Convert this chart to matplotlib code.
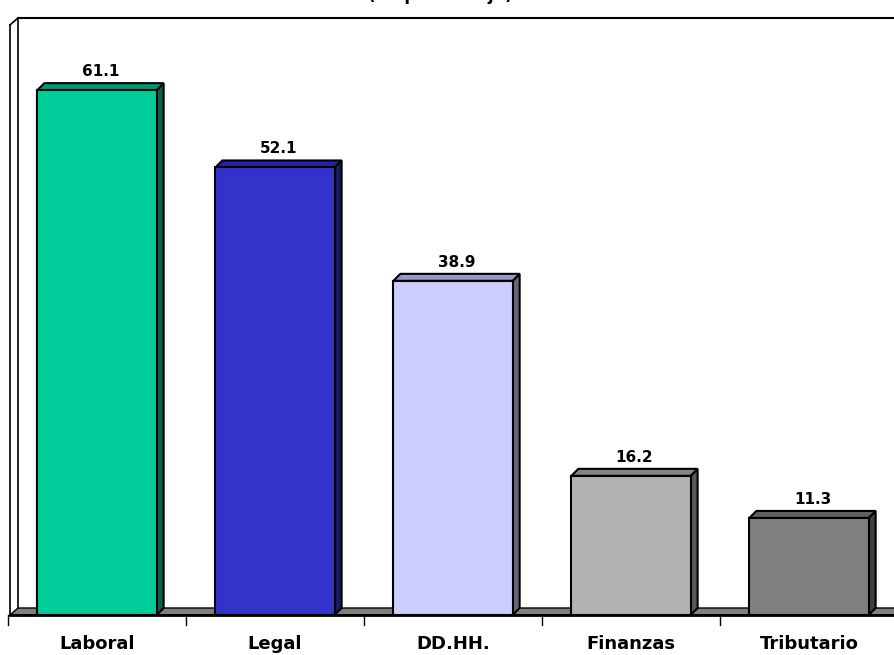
import matplotlib
matplotlib.use('Agg')
import matplotlib.pyplot as plt
from matplotlib.patches import Polygon, Rectangle

# data
categories = ['Laboral', 'Legal', 'DD.HH.', 'Finanzas', 'Tributario']
values = [61.1, 52.1, 38.9, 16.2, 11.3]
front_colors = ['#00CC99', '#3333CC', '#CCCCFF', '#B2B2B2', '#808080']
side_colors = ['#00664C', '#1A1A66', '#666680', '#595959', '#404040']
top_colors = ['#009973', '#26269A', '#9999BF', '#858585', '#606060']

fig = plt.figure(figsize=(8.95, 6.55), dpi=100)
# one category slot = 178 px, zero line at y=615 px
ax = fig.add_axes([8 / 895, 40 / 655, 890 / 895, 597 / 655])
ax.set_xlim(-0.5, 4.5)
ax.set_ylim(0, 69.5)
ax.axis('off')

dx = 7 / 178   # depth offset
dy = 7 / 8.59
bw = 0.67

# back wall / frame
xl_front = -0.489
xl_back = xl_front + 8 / 178
ax.plot([xl_front, xl_front], [0, 69.5 - dy], color='black', lw=1.2, clip_on=False)
ax.plot([xl_back, xl_back], [dy, 69.5], color='black', lw=1.2, clip_on=False)
ax.plot([xl_front, xl_back], [69.5 - dy, 69.5], color='black', lw=1.2, clip_on=False)
ax.plot([xl_back, 4.6], [69.5, 69.5], color='black', lw=1.5, clip_on=False)

# floor
floor = Polygon([(xl_front, 0), (xl_back, dy), (4.6, dy), (4.6, 0)],
                closed=True, facecolor='#808080', edgecolor='black', lw=1.0, clip_on=False)
ax.add_patch(floor)
ax.plot([xl_front, 4.6], [0, 0], color='black', lw=2, clip_on=False)

# ticks between categories
for i in range(6):
    ax.plot([i - 0.5, i - 0.5], [0, -1.2], color='black', lw=1.0, clip_on=False)

for i, (v, fc, sc, tc) in enumerate(zip(values, front_colors, side_colors, top_colors)):
    x0 = i - bw / 2
    x1 = i + bw / 2
    side = Polygon([(x1, 0), (x1 + dx, dy), (x1 + dx, v + dy), (x1, v)],
                   closed=True, facecolor=sc, edgecolor='black', lw=1.5, zorder=3)
    top = Polygon([(x0, v), (x0 + dx, v + dy), (x1 + dx, v + dy), (x1, v)],
                  closed=True, facecolor=tc, edgecolor='black', lw=1.5, zorder=3)
    front = Rectangle((x0, 0), bw, v, facecolor=fc, edgecolor='black', lw=1.5, zorder=4)
    ax.add_patch(side)
    ax.add_patch(top)
    ax.add_patch(front)
    ax.text(i + dx / 2, v + dy + 0.5, f'{v:.1f}', ha='center', va='bottom',
            fontsize=11, fontweight='bold', zorder=5)
    ax.text(i, -2.3, categories[i], ha='center', va='top',
            fontsize=13, fontweight='bold', clip_on=False)

# title, cut off at the top edge in the original
fig.text(440 / 895, 1 - 0.5 / 655, '(en porcentaje)', ha='center', va='baseline',
         fontsize=12, fontweight='bold')

fig.savefig('out.png', dpi=100)
